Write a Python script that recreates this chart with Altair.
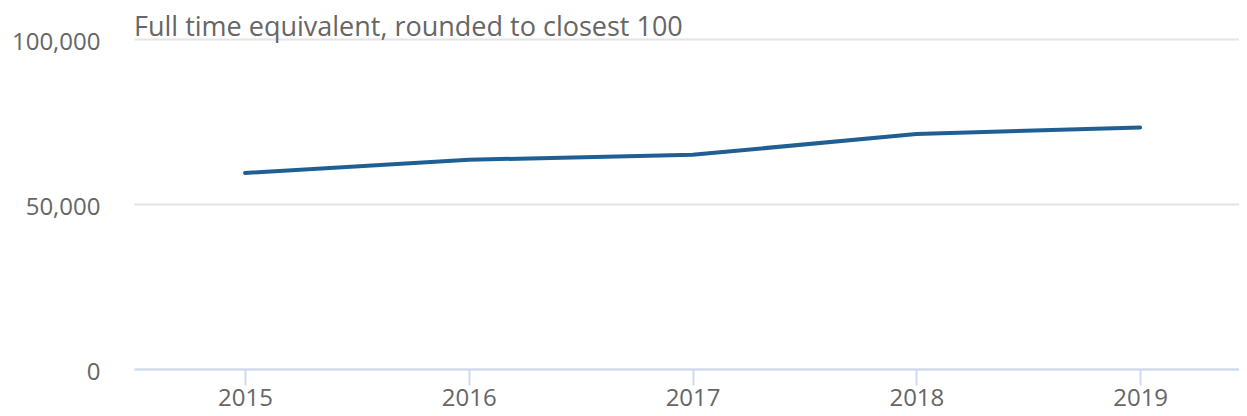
import altair as alt
import pandas as pd

years = ["2015", "2016", "2017", "2018", "2019"]
fte = [59400, 63400, 64900, 71200, 73200]
y_ticks = [0, 50000, 100000]
title_text = "Full time equivalent, rounded to closest 100"

df = pd.DataFrame({"year": years, "fte": fte})

FONT = "Open Sans"
GREY = "#666666"

chart = alt.Chart(df).mark_line(
    color="#1f5f94", strokeWidth=4, strokeCap="round"
).encode(
    x=alt.X("year:O", sort=years,
            scale=alt.Scale(type="point", padding=0.469, align=0.529),
            axis=alt.Axis(title=None, labelAngle=0, labelFontSize=24, labelColor=GREY,
                          labelFont=FONT, domainColor="#cfdaee", domainWidth=2,
                          tickColor="#cfdaee", tickWidth=2, tickSize=16, labelPadding=1,
                          grid=False)),
    y=alt.Y("fte:Q", scale=alt.Scale(domain=[0, 100000], nice=False),
            axis=alt.Axis(title=None, values=y_ticks, format=",d", labelFontSize=24,
                          labelColor=GREY, labelFont=FONT, ticks=False, tickSize=0,
                          labelPadding=34, labelOffset=3, domain=False, grid=True,
                          gridColor="#e4e4e4", gridWidth=2)),
).properties(
    width=1105, height=330,
    title=alt.TitleParams(title_text, anchor="start", frame="group", fontSize=27,
                          font=FONT, color=GREY, fontWeight="normal", offset=-12),
    autosize=alt.AutoSizeParams(type="none"),
    padding={"left": 126, "top": 31, "right": 0, "bottom": 39},
).configure_view(stroke=None)

chart.save("out.html", embed_options={"renderer": "svg", "actions": False})
